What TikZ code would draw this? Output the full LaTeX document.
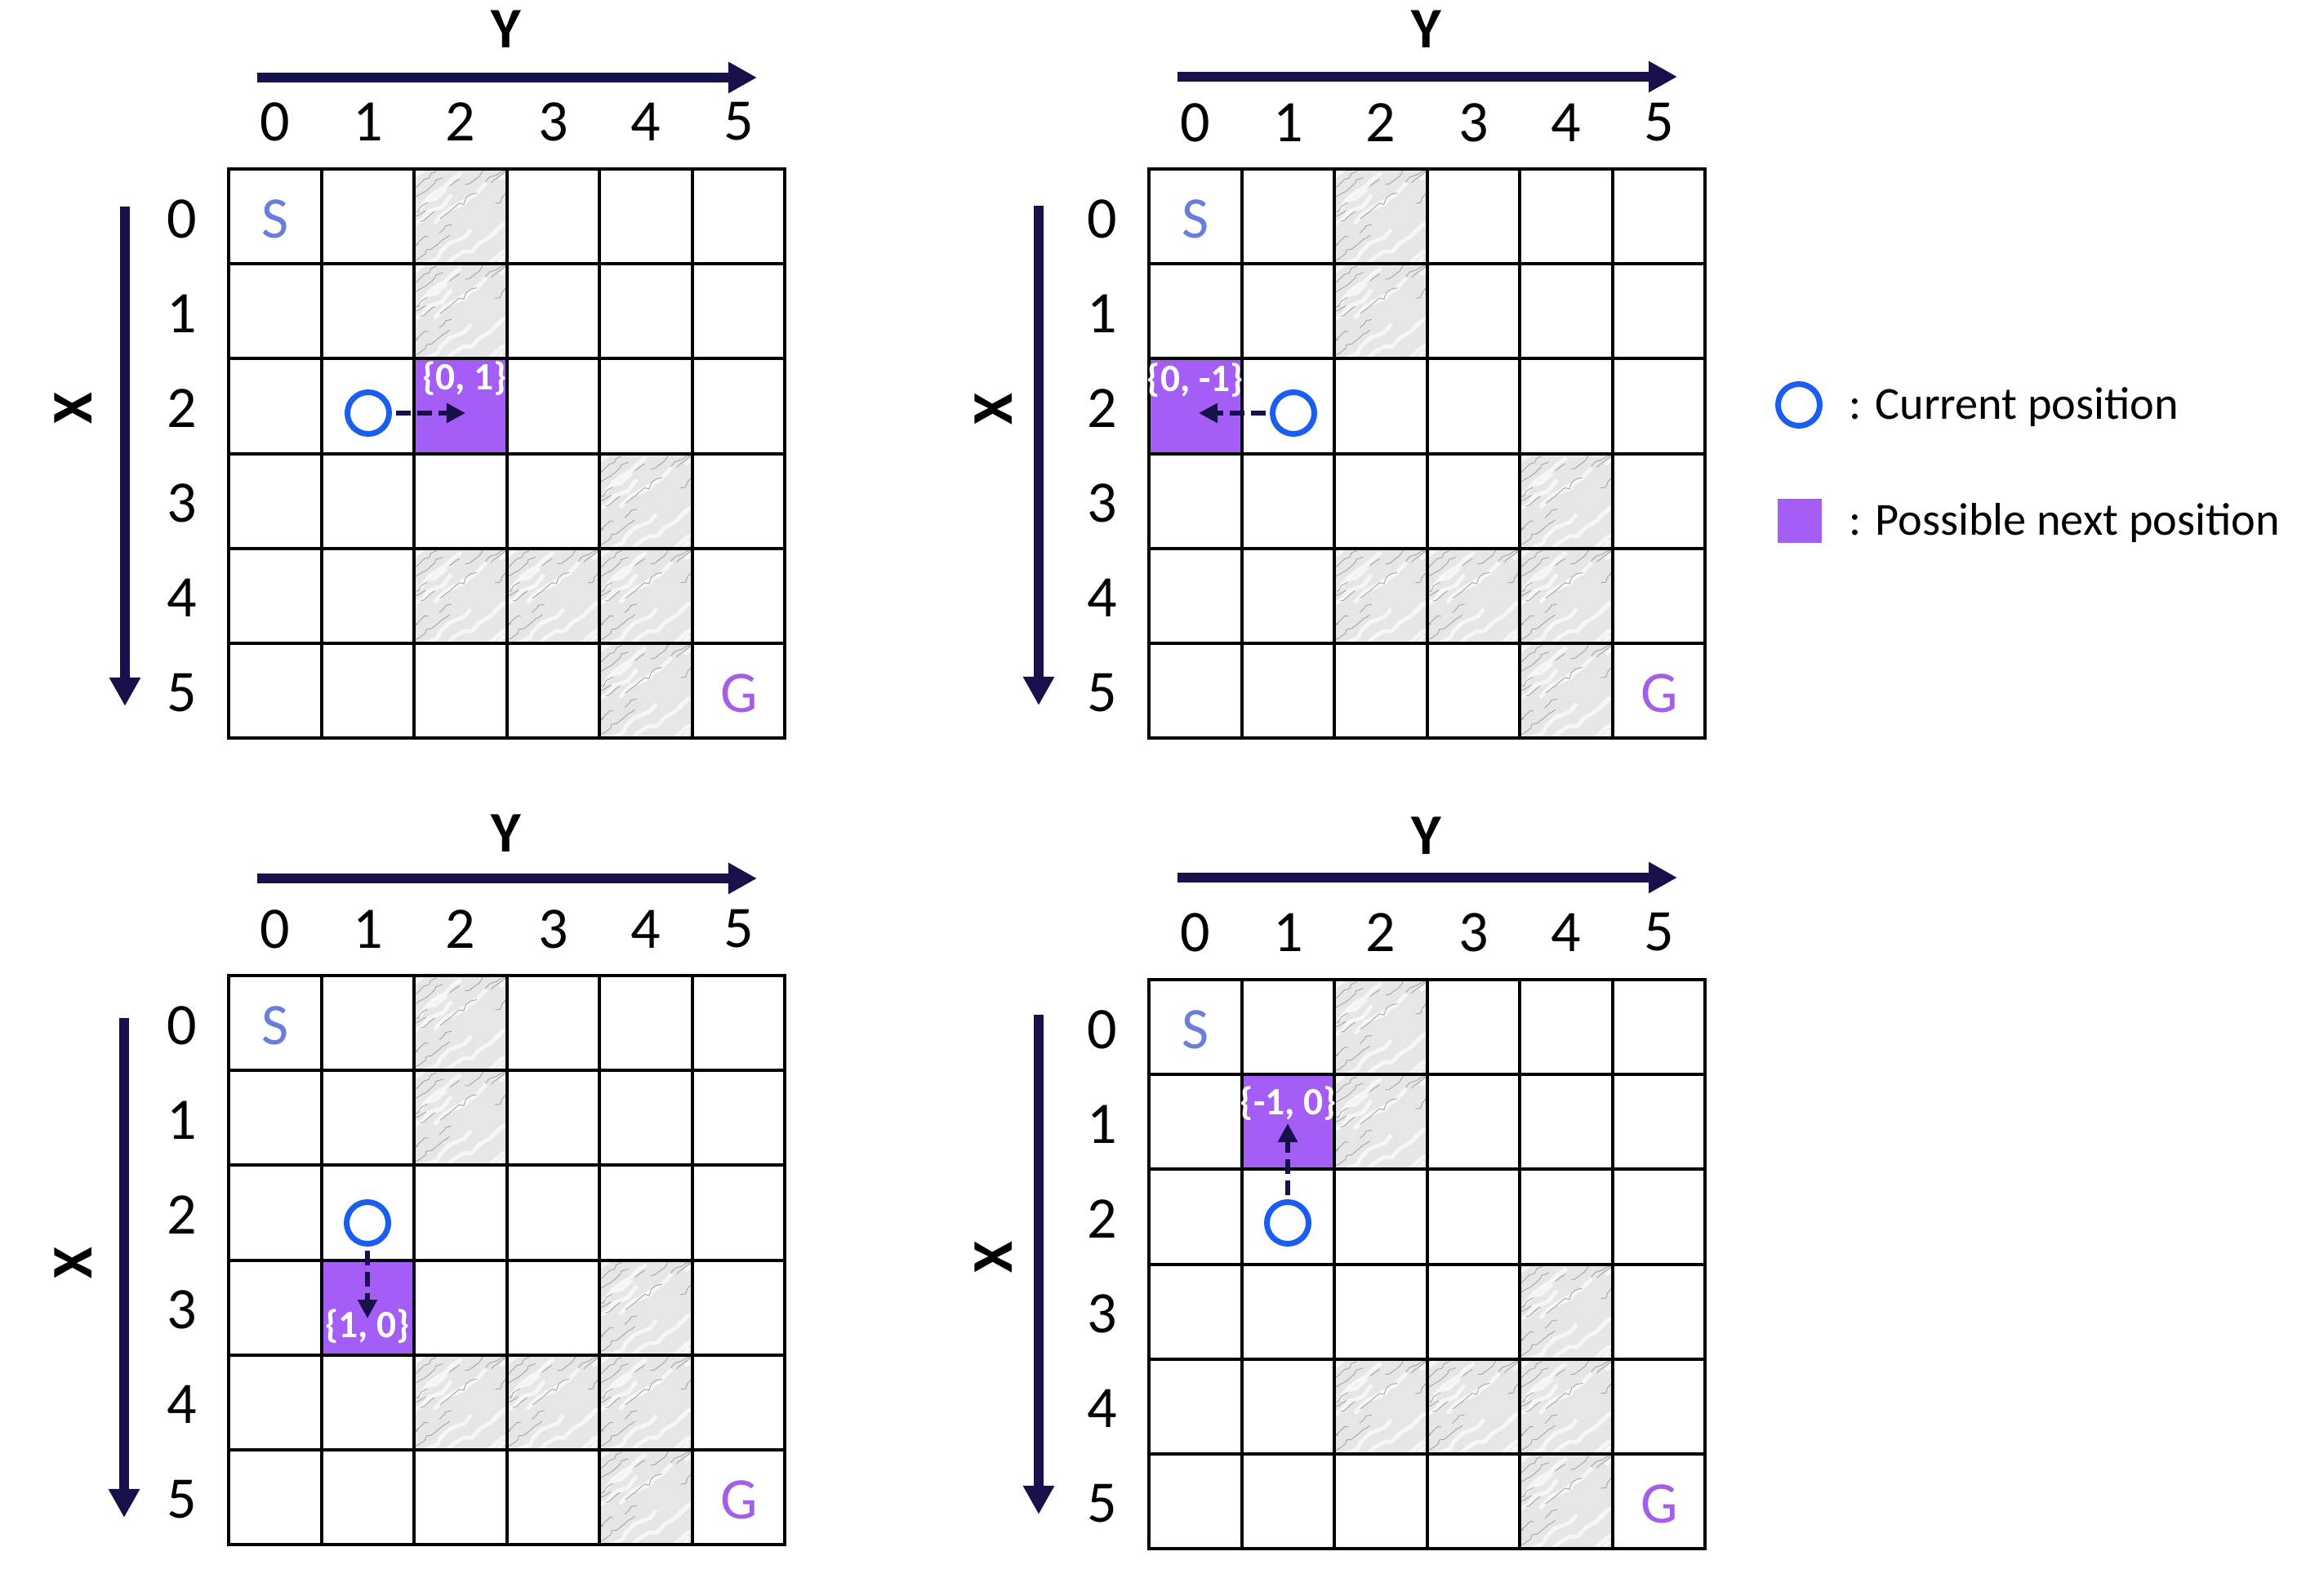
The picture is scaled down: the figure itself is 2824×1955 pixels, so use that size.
\documentclass[tikz,border=0pt]{standalone}
\usepackage{fontspec}
\setmainfont{Carlito}
\usetikzlibrary{arrows.meta,decorations.pathmorphing}
\definecolor{navy}{HTML}{16104B}
\definecolor{nextpurple}{HTML}{A45DF5}
\definecolor{curblue}{HTML}{1A5EF0}
\definecolor{scol}{HTML}{6A7DDA}
\definecolor{gcol}{HTML}{A35EEA}
\definecolor{marblebase}{HTML}{E6E6E9}
\definecolor{veindark}{HTML}{A2A2AA}
\definecolor{veinlight}{HTML}{F6F6F8}
\tikzset{
 gridline/.style={line width=0.04cm, black, line cap=rect},
 axisarrow/.style={navy, line width=0.115cm, -{Triangle[length=0.35cm,width=0.36cm]}},
 movearrow/.style={navy, line width=0.065cm, dash pattern=on 0.18cm off 0.08cm, shorten <=0.05cm, -{Triangle[length=0.23cm,width=0.23cm]}},
 curpos/.style={circle, draw=curblue, line width=0.07cm, minimum size=0.51cm, inner sep=0pt},
 nextfill/.style={fill=nextpurple},
 numlabel/.style={font=\fontsize{20.5}{24}\selectfont, inner sep=0pt},
 axislabel/.style={font=\fontsize{20}{24}\selectfont\bfseries, inner sep=0pt},
 startlabel/.style={font=\fontsize{20.5}{24}\selectfont, text=scol, inner sep=0pt},
 goallabel/.style={font=\fontsize{20.5}{24}\selectfont, text=gcol, inner sep=0pt},
 movelabel/.style={font=\fontsize{13.5}{16}\selectfont\bfseries, text=white, inner sep=0pt},
 legendtext/.style={font=\fontsize{16}{19}\selectfont, inner sep=0pt, anchor=base west},
 vein/.style={veindark, line width=0.25pt, decorate, decoration={random steps, segment length=2pt, amplitude=0.9pt}},
 veinsoft/.style={veinlight, line width=1.4pt, decorate, decoration={random steps, segment length=4pt, amplitude=1.5pt}},
}
\def\cw{113.5}
\def\ch{116.2}
% marble wall cell, top-left corner at (#1,#2)
\newcommand\marblecell[2]{%
 \begin{scope}[shift={(#1,#2)}]
  \fill[marblebase] (0,0) rectangle (\cw,\ch);
  \begin{scope}
   \clip (0,0) rectangle (\cw,\ch);
   \pgfmathsetseed{42}
   \foreach \k in {1,...,12} {
     \pgfmathsetmacro\ax{rnd*150-30}
     \pgfmathsetmacro\ay{rnd*150}
     \pgfmathsetmacro\ln{30+rnd*50}
     \draw[veinsoft] (\ax,\ay) -- ++(\ln,-0.75*\ln);
   }
   \foreach \k in {1,...,20} {
     \pgfmathsetmacro\ax{rnd*150-30}
     \pgfmathsetmacro\ay{rnd*150}
     \pgfmathsetmacro\ln{12+rnd*35}
     \draw[vein] (\ax,\ay) -- ++(\ln,-0.7*\ln);
   }
  \end{scope}
 \end{scope}
}
% grid body: #1 name, #2 gx, #3 gy
\newcommand\gridbody[3]{%
 \foreach \rr/\cc in {0/2,1/2,3/4,4/2,4/3,4/4,5/4} {
   \marblecell{#2+\cc*\cw}{#3+\rr*\ch}
 }
 \foreach \i in {0,...,6} {
   \draw[gridline] (#2+\i*\cw,#3) -- (#2+\i*\cw,#3+6*\ch);
   \draw[gridline] (#2,#3+\i*\ch) -- (#2+6*\cw,#3+\i*\ch);
 }
 \node[startlabel] (#1-S) at (#2+57,#3+61) {S};
 \node[goallabel] (#1-G) at (#2+625,#3+642) {G};
}
% axes: #1 name, #2 gx, #3 gy, #4 vertical arrow x, #5 X label y,
% #6 Y label y, #7 Y arrow y, #8 column numbers y, #9 vertical arrow top
\newcommand\gridaxes[9]{%
 \node[axislabel] (#1-Y) at (#2+340,#6) {Y};
 \coordinate (#1-ya) at (#2+35,#7);
 \coordinate (#1-yb) at (#2+647,#7);
 \draw[axisarrow] (#1-ya) -- (#1-yb);
 \foreach \i in {0,...,5} {
   \node[numlabel] (#1-col\i) at (#2+57+\i*\cw,#8) {\i};
   \node[numlabel] (#1-row\i) at (#2-57,#3+61+\i*\ch) {\i};
 }
 \node[axislabel, rotate=90] (#1-X) at (#2-190,#5) {X};
 \coordinate (#1-xa) at (#4,#9);
 \coordinate (#1-xb) at (#4,#9+612);
 \draw[axisarrow] (#1-xa) -- (#1-xb);
}
\begin{document}
\begin{tikzpicture}[x=0.01cm,y=-0.01cm]
\useasboundingbox (0,0) rectangle (2824,1955);
\fill[white] (0,0) rectangle (2824,1955);

% ---------- top-left panel ----------
\fill[nextfill] (280+2*\cw,207+2*\ch) rectangle (280+3*\cw,207+3*\ch);
\gridbody{tl}{280}{207}
\gridaxes{tl}{280}{207}{153}{500}{36}{95}{149}{253}
\node[movelabel] (tl-lab) at (569,464) {\{0, 1\}};
\node[curpos] (tl-cur) at (451,506) {};
\coordinate (tl-tip) at (570,506);
\draw[movearrow] (tl-cur) -- (tl-tip);

% ---------- top-right panel ----------
\fill[nextfill] (1407,207+2*\ch) rectangle (1407+\cw,207+3*\ch);
\gridbody{tr}{1407}{207}
\gridaxes{tr}{1407}{207}{1272}{501}{36}{94}{150}{252}
\node[movelabel] (tr-lab) at (1464,466) {\{0, -1\}};
\node[curpos] (tr-cur) at (1584,506) {};
\coordinate (tr-tip) at (1468,506);
\draw[movearrow] (tr-cur) -- (tr-tip);

% ---------- bottom-left panel ----------
\fill[nextfill] (280+\cw,1195+3*\ch) rectangle (280+2*\cw,1195+4*\ch);
\gridbody{bl}{280}{1195}
\gridaxes{bl}{280}{1195}{152}{1547}{1021}{1076}{1138}{1247}
\node[movelabel] (bl-lab) at (450,1625) {\{1, 0\}};
\node[curpos] (bl-cur) at (450,1498) {};
\coordinate (bl-tip) at (450,1615);
\draw[movearrow] (bl-cur) -- (bl-tip);

% ---------- bottom-right panel ----------
\fill[nextfill] (1407+\cw,1200+\ch) rectangle (1407+2*\cw,1200+2*\ch);
\gridbody{br}{1407}{1200}
\gridaxes{br}{1407}{1200}{1272}{1540}{1024}{1075}{1142}{1243}
\node[movelabel] (br-lab) at (1578,1352) {\{-1, 0\}};
\node[curpos] (br-cur) at (1577,1498) {};
\coordinate (br-tip) at (1577,1376);
\draw[movearrow] (br-cur) -- (br-tip);

% ---------- legend ----------
\node[curpos] (leg-cur) at (2203,496) {};
\node[legendtext] (leg-curtext) at (2264,514) {: Current position};
\node[fill=nextpurple, minimum width=0.54cm, minimum height=0.53cm, inner sep=0pt] (leg-next) at (2204,638) {};
\node[legendtext] (leg-nexttext) at (2264,655) {: Possible next position};
\end{tikzpicture}
\end{document}
